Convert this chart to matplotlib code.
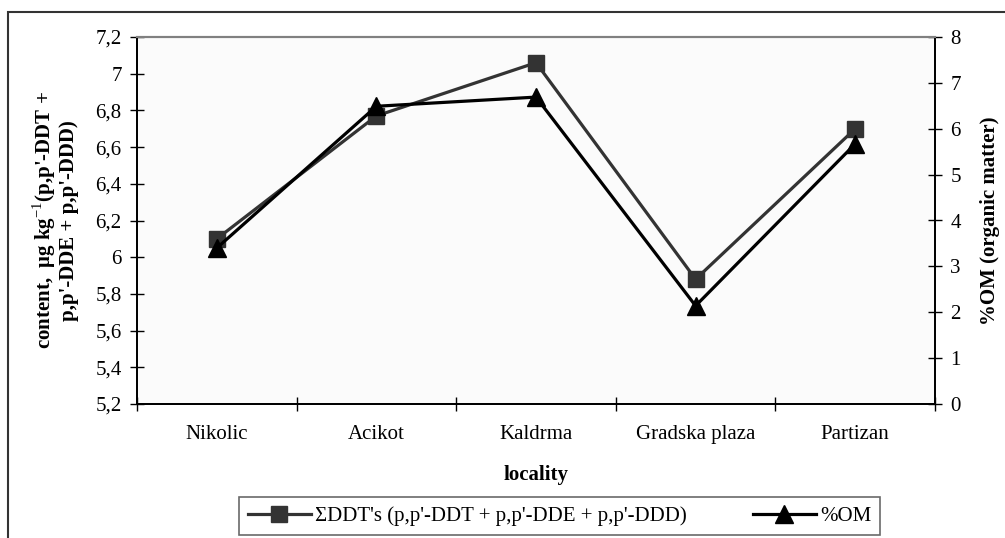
import matplotlib.pyplot as plt
import matplotlib.patches as mpatches
from matplotlib.ticker import FixedLocator, FuncFormatter

# locality data
localities = ["Nikolic", "Acikot", "Kaldrma", "Gradska plaza", "Partizan"]
ddt_content = [6.10, 6.77, 7.06, 5.88, 6.70]
om_percent = [3.40, 6.49, 6.69, 2.14, 5.67]

plt.rcParams['font.family'] = ['Liberation Serif', 'DejaVu Serif']
plt.rcParams['mathtext.fontset'] = 'custom'
plt.rcParams['mathtext.rm'] = 'Liberation Serif'
plt.rcParams['mathtext.bf'] = 'Liberation Serif:bold'
fs = 15

W, H = 1005, 538
fig = plt.figure(figsize=(W / 100, H / 100), dpi=100)
ax = fig.add_axes([137 / W, 1 - 404 / H, 798 / W, 367 / H])
ax.set_facecolor('#fbfbfb')

x = list(range(len(localities)))
l1, = ax.plot(x, ddt_content, color='#333333', lw=2.3, marker='s', ms=12,
              label="ΣDDT's (p,p'-DDT + p,p'-DDE + p,p'-DDD)", zorder=3)
ax.set_xlim(-0.5, len(localities) - 0.5)
ax.set_ylim(5.2, 7.2)
ax.set_yticks([5.2 + 0.2 * i for i in range(11)])
ax.yaxis.set_major_formatter(FuncFormatter(
    lambda v, p: ('%g' % round(v, 1)).replace('.', ',')))

ax2 = ax.twinx()
l2, = ax2.plot(x, om_percent, color='black', lw=2.3, marker='^', ms=13,
               label='%OM', zorder=4)
ax2.set_ylim(0, 8)
ax2.set_yticks(range(9))

# category labels in the middle, ticks on the boundaries
ax.set_xticks(x)
ax.set_xticklabels(localities, fontsize=fs)
ax.tick_params(axis='x', which='major', length=0, pad=15)
ax.xaxis.set_minor_locator(FixedLocator([i + 0.5 for i in range(-1, len(localities))]))
ax.tick_params(axis='x', which='minor', direction='inout', length=10, width=1)
ax.tick_params(axis='y', direction='inout', length=10, width=1, labelsize=fs, pad=6)
ax2.tick_params(axis='y', direction='inout', length=10, width=1, labelsize=fs, pad=6)

for a in (ax, ax2):
    a.spines['top'].set_color('#808080')
    a.spines['top'].set_linewidth(1.5)
    for s in ('left', 'right', 'bottom'):
        a.spines[s].set_linewidth(1.3)
        a.spines[s].set_color('black')

ax.set_xlabel('locality', fontsize=fs, fontweight='bold', labelpad=15)
ax.set_ylabel("content,  μg kg$^{-1}$(p,p'-DDT +\np,p'-DDE + p,p'-DDD)",
              fontsize=fs, fontweight='bold', labelpad=12, linespacing=1.05)
ax2.set_ylabel('%OM (organic matter)', fontsize=fs, fontweight='bold', labelpad=14)

leg = fig.legend(handles=[l1, l2], loc='center',
                 bbox_to_anchor=((236 + 883) / 2 / W, 1 - 516 / H),
                 ncol=2, fontsize=fs, frameon=True, fancybox=False,
                 handlelength=3.0, handletextpad=0.2, columnspacing=3.2,
                 borderpad=0.45)
leg.get_frame().set_edgecolor('#444444')
leg.get_frame().set_linewidth(1.2)

# outer chart border
fig.patches.append(mpatches.Rectangle((8 / W, -0.1), 1.2, 1.1 - 12 / H,
                                      transform=fig.transFigure, fill=False,
                                      ec='#333333', lw=1.5))

fig.savefig('out.png', dpi=100)
